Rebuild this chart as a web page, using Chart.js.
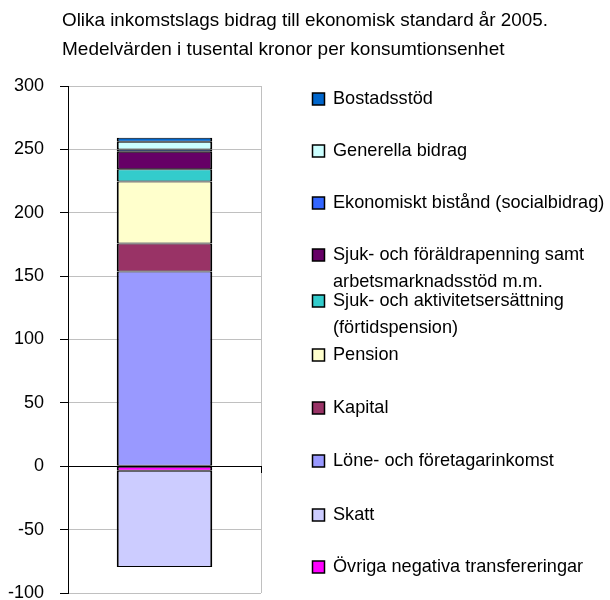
<!DOCTYPE html>
<html><head><meta charset="utf-8">
<script src="https://cdn.jsdelivr.net/npm/chart.js@4.4.1/dist/chart.umd.min.js"></script>
<style>html,body{margin:0;padding:0;background:#fff}#wrap{position:relative;width:610px;height:600px}</style>
</head><body><div id="wrap"><canvas id="c" width="610" height="600"></canvas></div>
<script>
const titleLines = ['Olika inkomstslags bidrag till ekonomisk standard år 2005.', 'Medelvärden i tusental kronor per konsumtionsenhet'];
const categories = [''];
// series in stacking order (negatives first, then positives bottom-up)
const seriesNames = [
  ['Övriga negativa transfereringar'],
  ['Skatt'],
  ['Löne- och företagarinkomst'],
  ['Kapital'],
  ['Pension'],
  ['Sjuk- och aktivitetsersättning', '(förtidspension)'],
  ['Sjuk- och föräldrapenning samt', 'arbetsmarknadsstöd m.m.'],
  ['Ekonomiskt bistånd (socialbidrag)'],
  ['Generella bidrag'],
  ['Bostadsstöd']
];
const ovrigaNeg = [-3.5];
const skatt = [-76];
const lone = [153.7];
const kapital = [22];
const pension = [48.9];
const sjukAktiv = [9.7];
const sjukForald = [13.9];
const ekonomiskt = [1.8];
const generella = [6.1];
const bostad = [3.1];
const seriesValues = [ovrigaNeg, skatt, lone, kapital, pension, sjukAktiv, sjukForald, ekonomiskt, generella, bostad];
const seriesColors = ['#FF00FF', '#CCCCFF', '#9999FF', '#993366', '#FFFFCC', '#33CCCC', '#660066', '#3366FF', '#CCFFFF', '#0066CC'];
const yTicks = [300, 250, 200, 150, 100, 50, 0, -50, -100];

const FONT = '"Liberation Sans", Arial, sans-serif';
const legendY = [567, 515, 461, 408, 355, 301, 255, 203, 151, 99];

const overlay = {
  id: 'overlay',
  afterDraw(chart) {
    const ctx = chart.ctx;
    ctx.save();
    ctx.fillStyle = '#000';
    ctx.font = '19px ' + FONT;
    ctx.textBaseline = 'middle';
    ctx.textAlign = 'left';
    ctx.fillText(titleLines[0], 62, 21, 486);
    ctx.fillText(titleLines[1], 62, 50, 486);
    seriesNames.forEach((lines, i) => {
      const y = legendY[i];
      ctx.fillStyle = seriesColors[i];
      ctx.fillRect(312.5, y - 6, 12, 12);
      ctx.strokeStyle = '#000';
      ctx.lineWidth = 1.5;
      ctx.strokeRect(312.5, y - 6, 12, 12);
      ctx.fillStyle = '#000';
      lines.forEach((t, k) => {
        ctx.save();
        ctx.translate(333, y + k * 27);
        ctx.scale(0.955, 1);
        ctx.fillText(t, 0, 0);
        ctx.restore();
      });
    });
    ctx.restore();
  }
};

new Chart(document.getElementById('c'), {
  type: 'bar',
  data: {
    labels: categories,
    datasets: seriesValues.map((v, i) => ({
      label: seriesNames[i].join(' '),
      data: v,
      backgroundColor: seriesColors[i],
      borderColor: '#000',
      borderWidth: { top: 1, bottom: 1, left: 2, right: 2 },
      borderSkipped: false,
      barPercentage: 0.99,
      categoryPercentage: 0.5
    }))
  },
  options: {
    responsive: false,
    animation: false,
    layout: { padding: { left: 0, right: 349, top: 86, bottom: 7 } },
    plugins: { legend: { display: false }, tooltip: { enabled: false }, title: { display: false } },
    scales: {
      x: {
        stacked: true,
        position: { y: 0 },
        grid: { offset: true, color: '#c0c0c0', tickColor: '#000', tickLength: 6, drawOnChartArea: true },
        border: { display: true, color: '#000' },
        ticks: { display: false }
      },
      y: {
        stacked: true,
        min: -100, max: 300,
        afterBuildTicks(scale) { scale.ticks = yTicks.map(v => ({ value: v })); },
        afterFit(scale) { scale.width = 68; scale.paddingTop = 0; scale.paddingBottom = 0; },
        grid: {
          color: ctx => ctx.tick && ctx.tick.value === 0 ? '#000' : '#c0c0c0',
          tickColor: '#000', tickLength: 8, drawTicks: true
        },
        border: { display: true, color: '#000' },
        ticks: { color: '#000', font: { size: 18, family: FONT }, padding: 16 }
      }
    }
  },
  plugins: [overlay]
});
</script></body></html>
